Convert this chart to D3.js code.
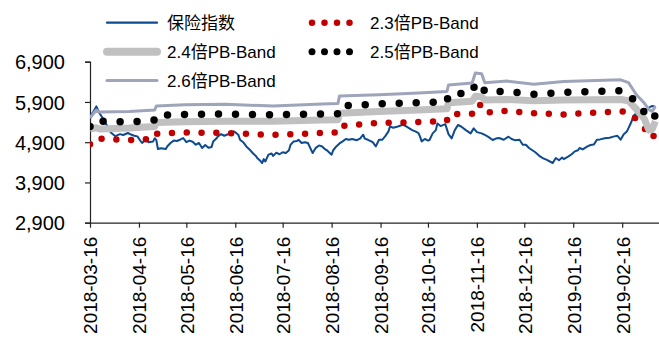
<!DOCTYPE html>
<html>
<head>
<meta charset="utf-8">
<script src="https://cdn.jsdelivr.net/npm/d3@7"></script>
<style>
  html, body { margin: 0; padding: 0; background: #fff; }
  svg { display: block; }
  text { font-family: "Liberation Sans", Arial, "Noto Sans CJK SC", sans-serif; fill: #000; }
</style>
</head>
<body>
<svg id="chart" width="659" height="347"></svg>
<script>
// Insurance index (daily close, sampled)
const indexDates = [
  "2018-03-16","2018-03-18","2018-03-20","2018-03-22","2018-03-24","2018-03-25","2018-03-27","2018-03-29",
  "2018-04-01","2018-04-04","2018-04-06","2018-04-09","2018-04-11","2018-04-13","2018-04-15","2018-04-17",
  "2018-04-18","2018-04-20","2018-04-22","2018-04-25","2018-04-26","2018-04-27","2018-04-28","2018-04-30",
  "2018-05-03","2018-05-04","2018-05-06","2018-05-08","2018-05-10","2018-05-12","2018-05-14","2018-05-16",
  "2018-05-18","2018-05-20","2018-05-22","2018-05-24","2018-05-26","2018-05-28","2018-05-30","2018-06-01",
  "2018-06-02","2018-06-04","2018-06-05","2018-06-07","2018-06-09","2018-06-11","2018-06-13","2018-06-15",
  "2018-06-16","2018-06-18","2018-06-19","2018-06-21","2018-06-23","2018-06-25","2018-06-27","2018-06-29",
  "2018-06-30","2018-07-02","2018-07-03","2018-07-04","2018-07-05","2018-07-07","2018-07-09","2018-07-10",
  "2018-07-12","2018-07-14","2018-07-16","2018-07-18","2018-07-20","2018-07-21","2018-07-23","2018-07-25",
  "2018-07-26","2018-07-28","2018-07-30","2018-08-01","2018-08-02","2018-08-04","2018-08-06","2018-08-08",
  "2018-08-10","2018-08-12","2018-08-13","2018-08-16","2018-08-17","2018-08-19","2018-08-21","2018-08-23",
  "2018-08-25","2018-08-27","2018-08-29","2018-09-01","2018-09-03","2018-09-05","2018-09-06","2018-09-08",
  "2018-09-11","2018-09-13","2018-09-15","2018-09-17","2018-09-19","2018-09-21","2018-09-22","2018-09-24",
  "2018-09-27","2018-09-30","2018-10-02","2018-10-04","2018-10-06","2018-10-08","2018-10-10","2018-10-11",
  "2018-10-12","2018-10-14","2018-10-16","2018-10-17","2018-10-19","2018-10-21","2018-10-22","2018-10-24",
  "2018-10-27","2018-10-29","2018-10-31","2018-11-02","2018-11-04","2018-11-06","2018-11-09","2018-11-12",
  "2018-11-14","2018-11-16","2018-11-19","2018-11-21","2018-11-23","2018-11-26","2018-11-28","2018-11-30",
  "2018-12-03","2018-12-06","2018-12-08","2018-12-10","2018-12-13","2018-12-15","2018-12-17","2018-12-19",
  "2018-12-23","2018-12-26","2018-12-28","2018-12-30","2019-01-03","2019-01-05","2019-01-07","2019-01-09",
  "2019-01-10","2019-01-13","2019-01-15","2019-01-17","2019-01-19","2019-01-20","2019-01-22","2019-01-25",
  "2019-01-27","2019-01-29","2019-01-31","2019-02-02","2019-02-05","2019-02-08","2019-02-11","2019-02-13",
  "2019-02-15","2019-02-17","2019-02-19","2019-02-20","2019-02-21","2019-02-22","2019-02-23","2019-02-25",
  "2019-02-27","2019-03-02","2019-03-04","2019-03-05","2019-03-07","2019-03-09"
];
const indexValues = [
  5550,5650,5790,5620,5500,5420,5300,5150,
  5050,5100,5080,5128,5090,5060,5045,4930,
  4880,4960,4900,4920,5000,4950,4730,4750,
  4730,4800,4880,4940,4930,4962,5004,4900,
  4940,4910,4838,4880,4755,4830,4760,4780,
  4920,4990,5045,5100,5060,5090,5120,5168,
  5150,5080,4962,4900,4795,4720,4631,4560,
  4500,4430,4383,4480,4420,4590,4620,4560,
  4640,4600,4650,4631,4700,4838,4920,4930,
  4962,4880,4900,4880,4795,4631,4760,4820,
  4795,4720,4700,4590,4700,4795,4870,4920,
  4980,4960,4980,4950,4990,5086,4990,4960,
  4900,4795,4962,4960,5050,5168,5292,5260,
  5290,5334,5300,5250,5200,5170,5128,5040,
  4920,4980,4940,4955,5120,5200,5367,5300,
  5350,5100,4995,5200,5327,5290,5200,5120,
  5243,5150,5120,5080,5040,4955,4990,5004,
  4960,5037,4980,4950,4962,4838,4838,4755,
  4650,4547,4500,4465,4383,4507,4450,4520,
  4480,4547,4600,4672,4700,4755,4720,4795,
  4830,4840,4962,4970,5000,5010,5045,5060,
  4962,5100,5168,5250,5334,5420,5550,5620,
  5680,5700,5740,5760,5800,5780
];

// PB-Band levels (multiples of book value per share)
const bandDates = [
  "2018-03-16","2018-03-20","2018-03-22","2018-04-10","2018-04-26","2018-04-27","2018-05-15","2018-06-10",
  "2018-07-10","2018-08-10","2018-08-20","2018-08-21","2018-09-15","2018-10-10","2018-10-28","2018-10-29",
  "2018-11-13","2018-11-15","2018-11-19","2018-11-21","2018-12-05","2018-12-22","2019-01-10","2019-02-15",
  "2019-02-20","2019-02-25","2019-03-02","2019-03-05","2019-03-07","2019-03-09"
];
const band23 = [4850,5020,4990,4950,4990,5110,5140,5130,5080,5130,5140,5300,5380,5400,5430,5600,
                5610,5840,5820,5630,5680,5620,5590,5670,5650,5470,5260,5030,5000,5120];
const band24 = [5230,5260,5230,5250,5290,5390,5410,5420,5420,5450,5460,5620,5665,5700,5730,5880,
                5920,6040,6030,5950,5960,5930,5950,5960,5930,5720,5480,5200,5220,5420];
const band25 = [5290,5470,5420,5400,5450,5570,5590,5600,5580,5600,5610,5800,5850,5880,5900,6090,
                6130,6360,6340,6150,6160,6090,6140,6180,6120,5850,5650,5490,5450,5570];
const band26 = [5500,5700,5650,5660,5700,5800,5830,5840,5800,5850,5860,6050,6080,6120,6160,6320,
                6370,6620,6600,6380,6420,6340,6410,6450,6380,6080,5873,5707,5665,5790];

const yTicks = [2900, 3900, 4900, 5900, 6900];
const xTickLabels = ["2018-03-16","2018-04-16","2018-05-16","2018-06-16","2018-07-16","2018-08-16",
                     "2018-09-16","2018-10-16","2018-11-16","2018-12-16","2019-01-16","2019-02-16"];

const seriesNames = ["保险指数", "2.3倍PB-Band", "2.4倍PB-Band", "2.5倍PB-Band", "2.6倍PB-Band"];

const parse = d3.timeParse("%Y-%m-%d");
const svg = d3.select("#chart");

const x = d3.scaleTime()
  .domain([parse("2018-03-16"), parse("2019-03-11")])
  .range([90, 658.5]);
const y = d3.scaleLinear().domain([2900, 6900]).range([222.7, 61.7]);

// clip to plot area
svg.append("defs").append("clipPath").attr("id", "plot")
  .append("rect").attr("x", 90).attr("y", 0).attr("width", 569).attr("height", 223);

// axes
const yAxis = d3.axisLeft(y).tickValues(yTicks).tickFormat(d3.format(",")).tickSize(5).tickPadding(20);
const gy = svg.append("g").attr("transform", "translate(90,0)").call(yAxis);
gy.select(".domain").attr("stroke", "#222").attr("stroke-width", 1.2);
gy.selectAll(".tick line").attr("stroke", "#222").attr("stroke-width", 1.2);
gy.selectAll(".tick text").style("font-size", "20px").attr("font-family", null).attr("dy", "0.36em");

const xAxis = d3.axisBottom(x).tickValues(xTickLabels.map(parse)).tickSize(5).tickSizeOuter(0)
  .tickFormat(d3.timeFormat("%Y-%m-%d"));
const gx = svg.append("g").attr("transform", "translate(0,222.7)").call(xAxis);
gx.select(".domain").attr("stroke", "#222").attr("stroke-width", 1.2);
gx.selectAll(".tick line").attr("stroke", "#222").attr("stroke-width", 1.2);
gx.selectAll(".tick text")
  .style("font-size", "19px").attr("font-family", null)
  .attr("transform", "rotate(-90)")
  .attr("text-anchor", "end")
  .attr("x", -14).attr("y", 0).attr("dy", "0.36em");

// series
const idxData = indexDates.map((d, i) => ({ date: parse(d), value: indexValues[i] }));
const bandData = arr => bandDates.map((d, i) => ({ date: parse(d), value: arr[i] }));
const line = d3.line().x(d => x(d.date)).y(d => y(d.value));

const plot = svg.append("g").attr("clip-path", "url(#plot)");

plot.append("path").datum(idxData).attr("d", line)
  .attr("fill", "none").attr("stroke", "#0d4a8f").attr("stroke-width", 2).attr("stroke-linejoin", "round");

plot.append("path").datum(bandData(band23)).attr("d", line)
  .attr("fill", "none").attr("stroke", "#c00000").attr("stroke-width", 6.5)
  .attr("stroke-linecap", "round").attr("stroke-dasharray", "0 14.8");

plot.append("path").datum(bandData(band24)).attr("d", line)
  .attr("fill", "none").attr("stroke", "#c0c0c0").attr("stroke-width", 7).attr("stroke-linejoin", "round");

plot.append("path").datum(bandData(band25)).attr("d", line)
  .attr("fill", "none").attr("stroke", "#000").attr("stroke-width", 7.5)
  .attr("stroke-linecap", "round").attr("stroke-dasharray", "0 17");

plot.append("path").datum(bandData(band26)).attr("d", line)
  .attr("fill", "none").attr("stroke", "#9ea5ba").attr("stroke-width", 3).attr("stroke-linejoin", "round");

// legend
const legendItems = [
  { name: seriesNames[0], x: 107, y: 22.7, stroke: "#0d4a8f", width: 2.2, dash: null },
  { name: seriesNames[1], x: 312, y: 22.7, stroke: "#c00000", width: 6.5, dash: "0 12.5" },
  { name: seriesNames[2], x: 107, y: 51.7, stroke: "#c0c0c0", width: 8, dash: null },
  { name: seriesNames[3], x: 312, y: 51.7, stroke: "#000", width: 7, dash: "0 12.5" },
  { name: seriesNames[4], x: 107, y: 80.5, stroke: "#9ea5ba", width: 3, dash: null }
];
const lg = svg.append("g").selectAll("g").data(legendItems).join("g");
lg.append("line")
  .attr("x1", d => d.x).attr("x2", d => d.x + 50)
  .attr("y1", d => d.y).attr("y2", d => d.y)
  .attr("stroke", d => d.stroke).attr("stroke-width", d => d.width)
  .attr("stroke-linecap", "round")
  .attr("stroke-dasharray", d => d.dash);
lg.append("text")
  .attr("x", d => d.x + (d.dash ? 58 : 60)).attr("y", d => d.y).attr("dy", "0.36em")
  .style("font-size", "17px")
  .text(d => d.name);
</script>
</body>
</html>
